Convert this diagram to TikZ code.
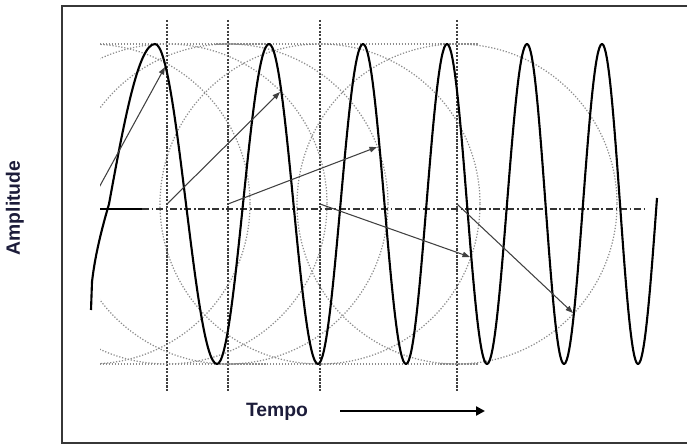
\documentclass[tikz,border=0pt]{standalone}
\usepackage{fontspec}
\setmainfont{Liberation Sans}
\usepackage{xcolor}
\definecolor{labelnavy}{RGB}{28,28,58}
\definecolor{framegray}{RGB}{55,55,55}
\usetikzlibrary{arrows.meta}

\begin{document}
\begin{tikzpicture}[
	x=0.02cm, y=-0.02cm,
	wave/.style={draw=black, line width=1.2pt, line join=round},
	circ/.style={draw=black!45, line width=0.7pt, densely dotted},
	guide/.style={draw=black!75, line width=0.75pt, dash pattern=on 1.2pt off 0.8pt},
	axisline/.style={draw=black!80, line width=0.9pt, dash pattern=on 4pt off 1.5pt on 1pt off 1.5pt},
	vec/.style={-{Triangle[length=1.5mm, width=1.1mm]}, draw=black!75, line width=0.6pt},
	lbl/.style={font=\fontsize{11}{13}\selectfont\bfseries, text=labelnavy, inner sep=0pt},
	timearr/.style={-{Triangle[length=1.8mm, width=1.8mm]}, line width=1.3pt}
	]
	\useasboundingbox (0,0) rectangle (687,446);
	\draw[framegray, line width=1.3pt] (720,6) -- (62,6) -- (62,443) -- (720,443);

	% centres of the rotating phasors and their tips
	\coordinate (c1) at (90,204);
	\coordinate (c2) at (167,204);
	\coordinate (c3) at (228,204);
	\coordinate (c4) at (320,204);
	\coordinate (c5) at (457,204);
	\coordinate (p1) at (165,67);
	\coordinate (p2) at (280,92);
	\coordinate (p3) at (377,147);
	\coordinate (p4) at (470,257);
	\coordinate (p5) at (573,313);

	\foreach \x in {167,228,320,457}
		\draw[guide] (\x,20) -- (\x,391);

	\begin{scope}
		\clip (100,0) rectangle (687,446);
		\foreach \c in {c1,c2,c3,c4,c5}
			\draw[circ] (\c) circle[radius=160];
		\draw[circ] (100,44) -- (478,44);
		\draw[circ] (100,364) -- (478,364);
	\end{scope}

	% time axis
	\draw[black, line width=1.4pt] (100,209) -- (142,209);
	\draw[axisline] (142,209) -- (647,209);

	% chirp
	\draw[wave] (91,310) -- (92,282) .. controls (95,255) and (102,228) .. (109,204)
		sin (155,44) cos (186,204) sin (217,364) cos (243,204)
		sin (269,44) cos (293.5,204) sin (318,364) cos (340.5,204)
		sin (363,44) cos (384.5,204) sin (406,364) cos (426.5,204)
		sin (447,44) cos (467,204) sin (487,364) cos (507,204)
		sin (527,44) cos (545.5,204) sin (564,364) cos (583,204)
		sin (602,44) cos (620,204) sin (638,364) cos (657,198);

	\begin{scope}
		\clip (100,0) rectangle (687,446);
		\draw[vec] (c1) -- (p1);
		\draw[vec] (c2) -- (p2);
		\draw[vec] (c3) -- (p3);
		\draw[vec] (c4) -- (p4);
		\draw[vec] (c5) -- (p5);
	\end{scope}

	\node[lbl, rotate=90] (amp) at (15,208) {Amplitude};
	\node[lbl] (tempo) at (277,412) {Tempo};
	\coordinate (t0) at (340,411);
	\coordinate (t1) at (485,411);
	\draw[timearr] (t0) -- (t1);
\end{tikzpicture}
\end{document}
